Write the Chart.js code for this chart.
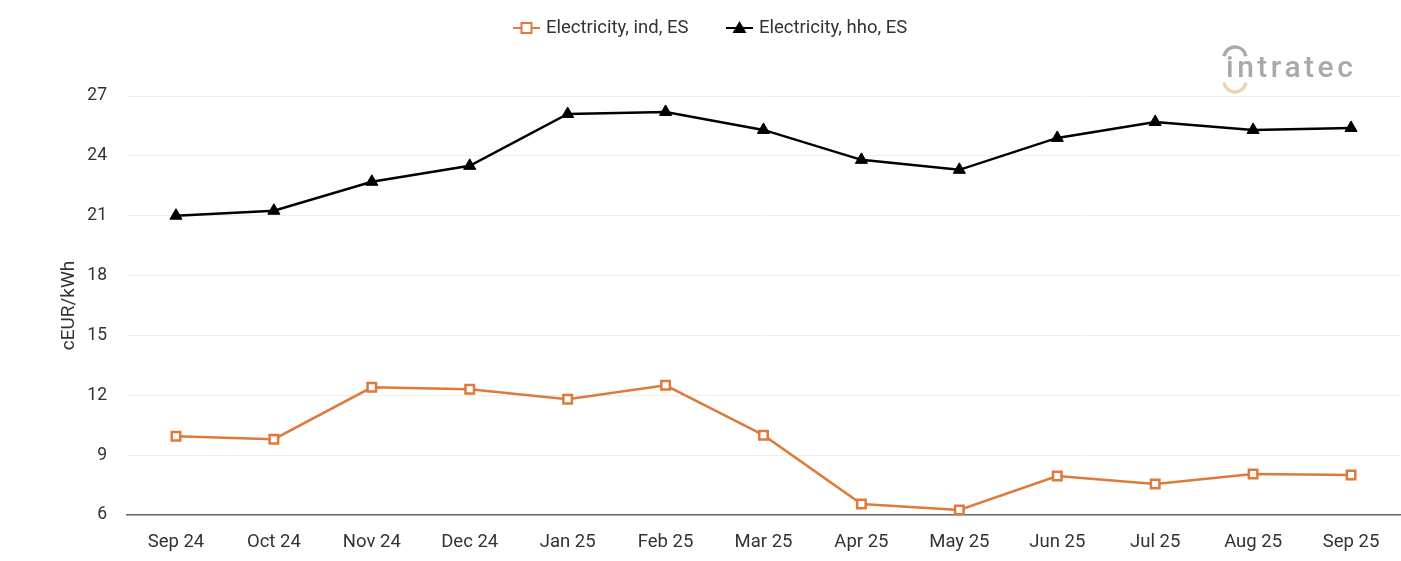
<!DOCTYPE html>
<html>
<head>
<meta charset="utf-8">
<script src="https://cdn.jsdelivr.net/npm/chart.js@4"></script>
<style>
  html, body { margin: 0; padding: 0; background: #fff; overflow: hidden; }
  canvas { display: block; }
</style>
</head>
<body>
<canvas id="chart" width="1401" height="561"></canvas>
<script>
const months = ['Sep 24', 'Oct 24', 'Nov 24', 'Dec 24', 'Jan 25', 'Feb 25', 'Mar 25', 'Apr 25', 'May 25', 'Jun 25', 'Jul 25', 'Aug 25', 'Sep 25'];
const elecInd = [9.95, 9.8, 12.4, 12.3, 11.8, 12.5, 10.0, 6.55, 6.25, 7.95, 7.55, 8.05, 8.0];
const elecHho = [21.0, 21.25, 22.7, 23.5, 26.1, 26.2, 25.3, 23.8, 23.3, 24.9, 25.7, 25.3, 25.4];
const yTicks = [6, 9, 12, 15, 18, 21, 24, 27];

const FONT = 'Roboto, "Liberation Sans", sans-serif';

// legend with line + marker, drawn by hand
const lineLegend = {
  id: 'lineLegend',
  afterDraw(chart) {
    const ctx = chart.ctx;
    const items = [{ x: 513, ds: chart.data.datasets[0] }, { x: 726, ds: chart.data.datasets[1] }];
    const y = 28;
    ctx.save();
    items.forEach(it => {
      const ds = it.ds;
      ctx.strokeStyle = ds.borderColor;
      ctx.lineWidth = 2;
      ctx.beginPath();
      ctx.moveTo(it.x, y);
      ctx.lineTo(it.x + 27, y);
      ctx.stroke();
      const cx = it.x + 13.5;
      if (ds.pointStyle === 'rect') {
        ctx.fillStyle = '#fff';
        ctx.fillRect(cx - 5, y - 5, 10, 10);
        ctx.strokeRect(cx - 5, y - 5, 10, 10);
      } else {
        ctx.fillStyle = ds.pointBackgroundColor;
        ctx.beginPath();
        ctx.moveTo(cx, y - 7);
        ctx.lineTo(cx + 7, y + 5);
        ctx.lineTo(cx - 7, y + 5);
        ctx.closePath();
        ctx.fill();
      }
      ctx.fillStyle = '#333';
      ctx.font = '18.5px ' + FONT;
      ctx.textBaseline = 'middle';
      ctx.fillText(ds.label, it.x + 33, y);
    });
    ctx.restore();
  }
};

// intratec watermark
const logo = {
  id: 'logo',
  afterDraw(chart) {
    const ctx = chart.ctx;
    ctx.save();
    ctx.globalAlpha = 0.85;
    ctx.fillStyle = '#9a9a9a';
    ctx.font = '500 30px ' + FONT;
    ctx.letterSpacing = '3.5px';
    ctx.textBaseline = 'alphabetic';
    ctx.fillText('intratec', 1226, 77);
    ctx.strokeStyle = '#9a9a9a';
    ctx.lineWidth = 3.5;
    ctx.beginPath();
    ctx.arc(1235, 58, 11, Math.PI * 1.05, Math.PI * 1.95);
    ctx.stroke();
    ctx.strokeStyle = '#efc9a6';
    ctx.beginPath();
    ctx.arc(1235, 81, 11, Math.PI * 0.05, Math.PI * 0.95);
    ctx.stroke();
    ctx.restore();
  }
};

new Chart(document.getElementById('chart'), {
  type: 'line',
  data: {
    labels: months,
    datasets: [
      {
        label: 'Electricity, ind, ES',
        data: elecInd,
        borderColor: '#dd7a3c',
        backgroundColor: '#ffffff',
        pointBackgroundColor: '#ffffff',
        pointBorderColor: '#dd7a3c',
        pointStyle: 'rect',
        pointRadius: 6,
        pointBorderWidth: 2.5,
        borderWidth: 2.5,
        tension: 0
      },
      {
        label: 'Electricity, hho, ES',
        data: elecHho,
        borderColor: '#000000',
        backgroundColor: '#000000',
        pointBackgroundColor: '#000000',
        pointBorderColor: '#000000',
        pointStyle: 'triangle',
        pointRadius: 7,
        pointBorderWidth: 1,
        borderWidth: 2.5,
        tension: 0
      }
    ]
  },
  options: {
    responsive: false,
    animation: false,
    layout: { autoPadding: false, padding: { top: 96, right: 1, left: 0, bottom: 0 } },
    plugins: {
      legend: { display: false },
      tooltip: { enabled: false }
    },
    scales: {
      x: {
        offset: true,
        afterFit: axis => { axis.height = 46; },
        grid: { display: false, drawTicks: false },
        border: { display: true, color: '#666', width: 1.5 },
        ticks: { color: '#333', font: { family: FONT, size: 18.5 }, padding: 16, maxRotation: 0, autoSkip: false }
      },
      y: {
        min: 6,
        max: 27,
        afterBuildTicks: axis => { axis.ticks = yTicks.map(v => ({ value: v })); },
        afterFit: axis => { axis.width = 127; },
        grid: { color: '#eeeeee', drawTicks: false },
        border: { display: false },
        ticks: { color: '#333', font: { family: FONT, size: 17.5 }, padding: 20 },
        title: { display: true, text: 'cEUR/kWh', color: '#333', font: { family: FONT, size: 19 }, padding: { top: 58, bottom: 0 } }
      }
    }
  },
  plugins: [lineLegend, logo]
});
</script>
</body>
</html>
